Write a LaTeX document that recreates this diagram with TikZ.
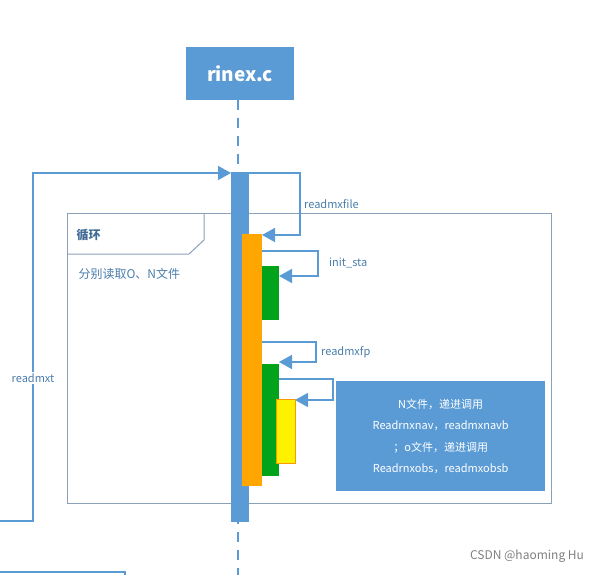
\documentclass[tikz,border=0pt]{standalone}
\usepackage{fontspec}
\setmainfont{Noto Sans CJK SC}
\usetikzlibrary{arrows.meta}
\definecolor{mblue}{RGB}{91,155,213}
\definecolor{mgray}{RGB}{140,160,185}
\tikzset{
  msg/.style={draw=mblue,line width=1.6pt,-{Triangle[length=13pt,width=14pt]}},
  lbl/.style={text=mblue!80!black,font=\fontsize{11}{13}\selectfont,anchor=west,inner sep=1pt},
  bar/.style={draw=none}
}
\begin{document}
\begin{tikzpicture}[x=1pt,y=-1pt]
\useasboundingbox (0,0) rectangle (616,575);
% loop frame
\draw[mgray,line width=1pt] (67,213) rectangle (551,503);
\draw[mgray,line width=1pt] (67,254) -- (189,254) -- (204,240) -- (204,213);
\node[anchor=west,font=\bfseries\fontsize{12}{14}\selectfont,text=mblue!70!black] (loop) at (73,235) {循环};
\node[anchor=west,font=\fontsize{12}{14}\selectfont,text=mblue!80!black] (cond) at (75,274) {分别读取O、N文件};
% head
\node[fill=mblue,minimum width=108pt,minimum height=53pt,text=white,font=\bfseries\fontsize{19}{22}\selectfont] (head) at (240,73.5) {rinex.c};
\coordinate (lend) at (238,575);
\draw[mblue,line width=1.6pt,dash pattern=on 10pt off 8pt] (238,100) -- (lend);
% bars
\fill[mblue] (231,172) rectangle (249,522);
\fill[orange!70!yellow] (242,234) rectangle (262,486);
\fill[green!60!black!90!cyan] (262,266) rectangle (279,320);
\fill[green!60!black!90!cyan] (262,364) rectangle (279,476);
\filldraw[fill=yellow,draw=orange!80!yellow,line width=0.8pt] (276,399) rectangle (295,463);
\coordinate (act) at (231,173);
\coordinate (or) at (262,235);
\coordinate (g1) at (279,266);
\coordinate (g2) at (279,362);
\coordinate (y1) at (295,400);
% readmxt
\coordinate (t0) at (0,521);
\draw[msg] (t0) -- (33,521) -- (33,173) -- (act);
\node[lbl,fill=white,anchor=center,inner sep=2pt] (rt) at (33,378) {readmxt};
% readmxfile
\draw[msg] (249,173) -- (300,173) -- (300,235) -- (or);
\node[lbl] (rf) at (303,204) {readmxfile};
% init_sta
\draw[msg] (262,251) -- (318,251) -- (318,276) -- (279,276);
\node[lbl] (is) at (328,263) {init\_sta};
% readmxfp
\draw[msg] (262,342) -- (316,342) -- (316,362) -- (g2);
\node[lbl] (rp) at (320,352) {readmxfp};
% recursion
\draw[msg] (279,379) -- (333,379) -- (333,400) -- (y1);
% note
\node[fill=mblue,minimum width=209pt,minimum height=110pt,anchor=north west,text=white,align=center,font=\fontsize{11}{21.5}\selectfont] (note) at (336,381) {N文件，递进调用\\Readrnxnav，readmxnavb\\；o文件，递进调用\\Readrnxobs，readmxobsb};
% bottom partial box
\draw[mblue,line width=1.3pt] (0,572) -- (125,572) -- (125,576);
\node[anchor=center,text=gray,font=\fontsize{12}{14}\selectfont] (wm) at (527,556) {CSDN @haoming Hu};
\end{tikzpicture}
\end{document}
